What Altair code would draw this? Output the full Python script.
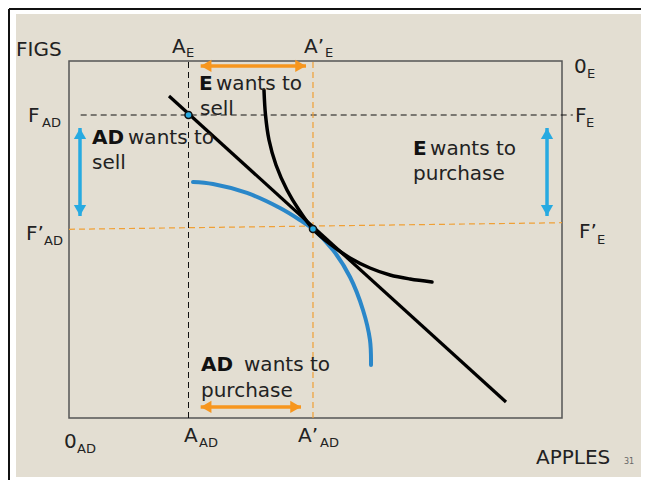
import altair as alt
import pandas as pd

# ---------------- data (box units: apples 0..10, figs 0..7) ----------------
# E's indifference curve (black)
e_ic_x = [3.955, 3.986, 4.057, 4.199, 4.422, 4.665, 4.949, 5.294, 5.700, 6.105, 6.511, 6.917, 7.363]
e_ic_y = [6.431, 5.941, 5.451, 4.961, 4.471, 4.078, 3.706, 3.412, 3.137, 2.941, 2.804, 2.725, 2.667]
# AD's indifference curve (blue)
ad_ic_x = [2.515, 2.921, 3.611, 4.280, 4.686, 4.949, 5.355, 5.700, 5.963, 6.105, 6.126]
ad_ic_y = [4.627, 4.588, 4.412, 4.118, 3.882, 3.706, 3.294, 2.765, 2.118, 1.529, 1.039]
# price line
price_x = [2.028, 8.864]
price_y = [6.314, 0.314]
# endowment and equilibrium points
pts_x = [2.424, 4.949]
pts_y = [5.941, 3.706]

# guide lines: x, x2, y, y2, colour group
guide_x = [2.424, 4.949, 0.237, 0.0]
guide_x2 = [2.424, 4.949, 10.22, 10.0]
guide_y = [0.0, 0.0, 5.941, 3.700]
guide_y2 = [7.0, 7.0, 5.941, 3.829]
guide_kind = ["black", "orange", "black", "orange"]

# double arrows: x, x2, y, y2, colour
arr_x = [2.671, 2.671, 0.223, 9.696]
arr_x2 = [4.807, 4.706, 0.223, 9.696]
arr_y = [6.902, 0.216, 5.686, 5.686]
arr_y2 = [6.902, 0.216, 3.961, 3.961]
arr_kind = ["orange", "orange", "blue", "blue"]

# main labels
lab_text = ["FIGS", "A", "A’", "0", "F", "F", "F’", "F’", "0", "A", "A’", "APPLES"]
lab_x = [-1.075, 2.089, 4.767, 10.243, -0.832, 10.264, -0.872, 10.345, -0.101, 2.333, 4.645, 9.473]
lab_y = [7.098, 7.157, 7.157, 6.765, 5.804, 5.804, 3.490, 3.529, -0.588, -0.471, -0.471, -0.902]
# subscripts
sub_text = ["E", "E", "E", "AD", "E", "AD", "E", "AD", "AD", "AD"]
sub_x = [2.373, 5.193, 10.507, -0.548, 10.487, -0.507, 10.710, 0.162, 2.637, 5.091]
sub_y = [7.078, 7.078, 6.667, 5.706, 5.706, 3.392, 3.412, -0.686, -0.569, -0.569]
# annotation words
bold_text = ["E", "AD", "E", "AD"]
bold_x = [2.637, 0.467, 6.978, 2.677]
bold_y = [6.431, 5.373, 5.157, 0.922]
plain_text = ["wants to", "sell", "wants to", "sell", "wants to", "purchase", "wants to", "purchase"]
plain_x = [2.982, 2.657, 1.197, 0.467, 7.323, 6.978, 3.550, 2.677]
plain_y = [6.431, 5.941, 5.373, 4.882, 5.157, 4.667, 0.922, 0.412]

# ---------------- styling ----------------
BEIGE = "#e3ded2"
ORANGE = "#f7961e"
ORANGE_D = "#f0a036"
BLUE_IC = "#2a87c9"
BLUE_AR = "#27aae1"
TXT = "#222222"
FONT = "DejaVu Sans"

xs = alt.Scale(domain=[0, 10], nice=False, zero=False)
ys = alt.Scale(domain=[0, 7], nice=False, zero=False)


def X(f="x"):
    return alt.X(f"{f}:Q", scale=xs, axis=None)


def Y(f="y"):
    return alt.Y(f"{f}:Q", scale=ys, axis=None)


# background panel and frame
bg = alt.Chart(pd.DataFrame({"x": [-1.075], "x2": [11.643], "y": [7.922], "y2": [-1.157]})).mark_rect(
    color=BEIGE
).encode(x=X(), x2="x2:Q", y=Y(), y2="y2:Q")

frame = alt.Chart(pd.DataFrame({"x": [-1.217, -1.217], "x2": [-1.217, 12.0], "y": [8.02, 8.02], "y2": [-1.3, 8.02]})).mark_rule(
    color="#111", strokeWidth=2
).encode(x=X(), x2="x2:Q", y=Y(), y2="y2:Q")

box = alt.Chart(pd.DataFrame({"x": [0.0], "x2": [10.0], "y": [0.0], "y2": [7.0]})).mark_rect(
    filled=False, stroke="#555555", strokeWidth=1.5
).encode(x=X(), x2="x2:Q", y=Y(), y2="y2:Q")

gdf = pd.DataFrame({"x": guide_x, "x2": guide_x2, "y": guide_y, "y2": guide_y2, "k": guide_kind})
guides_black = alt.Chart(gdf[gdf.k == "black"]).mark_rule(
    color="#111", strokeWidth=1, strokeDash=[6, 4]
).encode(x=X(), x2="x2:Q", y=Y(), y2="y2:Q")
guides_orange = alt.Chart(gdf[gdf.k == "orange"]).mark_rule(
    color=ORANGE_D, strokeWidth=1.2, strokeDash=[6, 4]
).encode(x=X(), x2="x2:Q", y=Y(), y2="y2:Q")

blue_ic = alt.Chart(pd.DataFrame({"x": ad_ic_x, "y": ad_ic_y, "o": range(len(ad_ic_x))})).mark_line(
    color=BLUE_IC, strokeWidth=4, interpolate="catmull-rom", strokeCap="round"
).encode(x=X(), y=Y(), order="o:Q")

price = alt.Chart(pd.DataFrame({"x": price_x, "y": price_y, "o": [0, 1]})).mark_line(
    color="#000", strokeWidth=3.2
).encode(x=X(), y=Y(), order="o:Q")

black_ic = alt.Chart(pd.DataFrame({"x": e_ic_x, "y": e_ic_y, "o": range(len(e_ic_x))})).mark_line(
    color="#000", strokeWidth=3.5, interpolate="catmull-rom", strokeCap="round"
).encode(x=X(), y=Y(), order="o:Q")

points = alt.Chart(pd.DataFrame({"x": pts_x, "y": pts_y})).mark_point(
    filled=True, fill=BLUE_AR, stroke="#111", strokeWidth=1.5, size=50, opacity=1
).encode(x=X(), y=Y())

adf = pd.DataFrame({"x": arr_x, "x2": arr_x2, "y": arr_y, "y2": arr_y2, "k": arr_kind})
hx, hy = 0.11, 0.11  # half head length in units


def arrow_layers(df, color):
    shaft = alt.Chart(df).mark_rule(color=color, strokeWidth=3.5).encode(
        x=X(), x2="x2:Q", y=Y(), y2="y2:Q"
    )
    horiz = df[df.y == df.y2]
    vert = df[df.x == df.x2]
    layers = [shaft]
    if len(horiz):
        left = pd.DataFrame({"x": horiz.x + hx, "y": horiz.y})
        right = pd.DataFrame({"x": horiz.x2 - hx, "y": horiz.y})
        layers.append(alt.Chart(left).mark_point(shape="triangle-left", filled=True, color=color, size=150, opacity=1).encode(x=X(), y=Y()))
        layers.append(alt.Chart(right).mark_point(shape="triangle-right", filled=True, color=color, size=150, opacity=1).encode(x=X(), y=Y()))
    if len(vert):
        up = pd.DataFrame({"x": vert.x, "y": vert.y - hy})
        down = pd.DataFrame({"x": vert.x, "y": vert.y2 + hy})
        layers.append(alt.Chart(up).mark_point(shape="triangle-up", filled=True, color=color, size=150, opacity=1).encode(x=X(), y=Y()))
        layers.append(alt.Chart(down).mark_point(shape="triangle-down", filled=True, color=color, size=150, opacity=1).encode(x=X(), y=Y()))
    return layers


arrows = arrow_layers(adf[adf.k == "orange"].reset_index(drop=True), ORANGE) + \
    arrow_layers(adf[adf.k == "blue"].reset_index(drop=True), BLUE_AR)

labels = alt.Chart(pd.DataFrame({"x": lab_x, "y": lab_y, "t": lab_text})).mark_text(
    align="left", baseline="alphabetic", font=FONT, fontSize=20, color=TXT
).encode(x=X(), y=Y(), text="t:N")
subs = alt.Chart(pd.DataFrame({"x": sub_x, "y": sub_y, "t": sub_text})).mark_text(
    align="left", baseline="alphabetic", font=FONT, fontSize=13, color=TXT
).encode(x=X(), y=Y(), text="t:N")
bolds = alt.Chart(pd.DataFrame({"x": bold_x, "y": bold_y, "t": bold_text})).mark_text(
    align="left", baseline="alphabetic", font=FONT, fontSize=20, fontWeight="bold", color="#111"
).encode(x=X(), y=Y(), text="t:N")
plains = alt.Chart(pd.DataFrame({"x": plain_x, "y": plain_y, "t": plain_text})).mark_text(
    align="left", baseline="alphabetic", font=FONT, fontSize=20, color=TXT
).encode(x=X(), y=Y(), text="t:N")
pagenum = alt.Chart(pd.DataFrame({"x": [11.258], "y": [-0.902], "t": ["31"]})).mark_text(
    align="left", baseline="alphabetic", font=FONT, fontSize=8, color="#666"
).encode(x=X(), y=Y(), text="t:N")

chart = alt.layer(
    bg, frame, box, guides_black, guides_orange, blue_ic, price, black_ic, *arrows,
    points, labels, subs, bolds, plains, pagenum
).properties(
    width=493, height=357,
    padding={"left": 61, "top": 53, "right": 79, "bottom": 62},
    autosize=alt.AutoSizeParams(type="none"),
    background="white",
).configure_view(stroke=None)

chart.save("out.html", embed_options={"renderer": "svg", "actions": False})
